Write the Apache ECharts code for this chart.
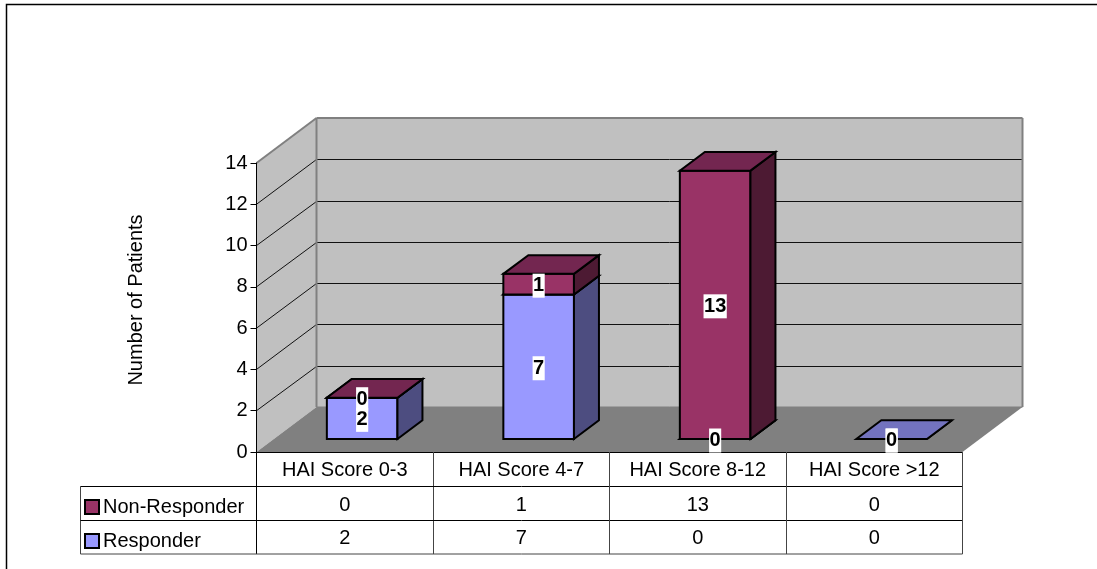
<!DOCTYPE html>
<html>
<head>
<meta charset="utf-8">
<style>html,body{margin:0;padding:0;background:#fff}#c{width:1097px;height:569px}</style>
<script src="https://cdn.jsdelivr.net/npm/echarts@6/dist/echarts.min.js"></script>
</head>
<body>
<div id="c"></div>
<script>
var categories = ['HAI Score 0-3', 'HAI Score 4-7', 'HAI Score 8-12', 'HAI Score >12'];
var responder = [2, 7, 0, 0];
var nonResponder = [0, 1, 13, 0];
var yTicks = [0, 2, 4, 6, 8, 10, 12, 14];

var FONT = '"Liberation Sans", Arial, sans-serif';
var WALL = [60, -45], BAR_SHIFT = [17.4, -13], BAR_DEPTH = [25, -18.7], BAR_RATIO = 0.4;
var ROWS = [34.5, 68.5, 102];
var TABLE_LEFT = 80.5;

function line(x1, y1, x2, y2, color, w) {
  return {type: 'line', silent: true, shape: {x1: x1, y1: y1, x2: x2, y2: y2}, style: {stroke: color, lineWidth: w, fill: null}};
}
function poly(points, fill, stroke, w) {
  return {type: 'polygon', silent: true, shape: {points: points}, style: {fill: fill, stroke: stroke || null, lineWidth: w || 0, lineJoin: 'miter'}};
}
function walls(params, api) {
  var p = api.coord([0, api.value(0)]);
  var v = api.value(0);
  var cs = params.coordSys;
  var L = cs.x, R = cs.x + cs.width, B = cs.y + cs.height, T = cs.y;
  var dx = WALL[0], dy = WALL[1], ch = [];
  if (params.dataIndex === 0) {
    ch.push(poly([[L + dx, T + dy], [R + dx, T + dy], [R + dx, B + dy], [L + dx, B + dy]], '#c0c0c0'));
    ch.push(poly([[L, T], [L + dx, T + dy], [L + dx, B + dy], [L, B]], '#c0c0c0'));
    ch.push(poly([[L, B], [L + dx, B + dy], [R + dx, B + dy], [R, B]], '#808080'));
  } else if (v < 14) {
    var y = Math.round(p[1] + dy) + 0.5;
    ch.push(line(L, p[1], L + dx, y, '#111', 1));
    ch.push(line(L + dx, y, R + dx, y, '#111', 1));
  } else {
    var t = T + dy;
    ch.push(line(L, T, L + dx, t, '#808080', 2));
    ch.push(line(L + dx, t, R + dx, t, '#808080', 2));
    ch.push(line(R + dx, t, R + dx, B + dy, '#808080', 2));
    ch.push(line(L + dx, t, L + dx, B + dy, '#808080', 2));
    ch.push(line(L + dx, B + dy, R + dx, B + dy, '#808080', 1));
  }
  return {type: 'group', children: ch};
}
function barRenderer(front, top, side, isUpper) {
  return function (params, api) {
    var i = api.value(0), val = api.value(1), base = api.value(2);
    if (isUpper && val === 0 && base === 0) { return {type: 'group', children: []}; }
    var a = api.coord([i, base]), b = api.coord([i, base + val]);
    var w = api.size([1, 0])[0] * BAR_RATIO;
    var x0 = a[0] - w / 2 + BAR_SHIFT[0], x1 = x0 + w;
    var yb = a[1] + BAR_SHIFT[1], yt = b[1] + BAR_SHIFT[1];
    var ddx = BAR_DEPTH[0], ddy = BAR_DEPTH[1];
    return {type: 'group', children: [
      poly([[x0, yb], [x1, yb], [x1, yt], [x0, yt]], front, '#000', 2),
      poly([[x1, yb], [x1 + ddx, yb + ddy], [x1 + ddx, yt + ddy], [x1, yt]], side, '#000', 2),
      poly([[x0, yt], [x1, yt], [x1 + ddx, yt + ddy], [x0 + ddx, yt + ddy]], top, '#000', 2)
    ]};
  };
}
function labels(params, api) {
  var i = api.value(0), val = api.value(1), base = api.value(2);
  var c = api.coord([i, base + val / 2]);
  return {type: 'text', silent: true, x: c[0] + BAR_SHIFT[0], y: c[1] + BAR_SHIFT[1] + 1.5,
    style: {text: String(val), font: 'bold 20px ' + FONT, fill: '#000', align: 'center', verticalAlign: 'middle',
      backgroundColor: '#fff', padding: [2, 0.5]}};
}
function tableCell(txt, x, y) {
  return {type: 'text', silent: true, x: x, y: y + 1.5,
    style: {text: String(txt), font: '20px ' + FONT, fill: '#000', align: 'center', verticalAlign: 'middle'}};
}
function table(params, api) {
  var i = api.value(0);
  var p = api.coord([i, 0]);
  var w = api.size([1, 0])[0];
  var cs = params.coordSys;
  var y0 = cs.y + cs.height;
  var right = Math.floor(p[0] + w / 2) + 0.5;
  var ch = [
    line(right, y0, right, y0 + ROWS[2], '#444', 1),
    tableCell(api.value(1), p[0], y0 + (ROWS[0] + ROWS[1]) / 2),
    tableCell(api.value(2), p[0], y0 + (ROWS[1] + ROWS[2]) / 2)
  ];
  if (i === 0) {
    var L = Math.floor(cs.x) + 0.5, R = cs.x + cs.width;
    ch.push(line(L, y0, L, y0 + ROWS[2], '#000', 1));
    ch.push(line(TABLE_LEFT, y0 + ROWS[0], TABLE_LEFT, y0 + ROWS[2], '#444', 1));
    ch.push(line(TABLE_LEFT, y0 + ROWS[0], R, y0 + ROWS[0], '#000', 1));
    ch.push(line(TABLE_LEFT, y0 + ROWS[1], R, y0 + ROWS[1], '#000', 1));
    ch.push(line(TABLE_LEFT, y0 + ROWS[2], R, y0 + ROWS[2], '#444', 1));
  }
  return {type: 'group', children: ch};
}

var responderData = categories.map(function (c, i) { return [i, responder[i], 0]; });
var nonResponderData = categories.map(function (c, i) { return [i, nonResponder[i], responder[i]]; });
var tableData = categories.map(function (c, i) { return [i, nonResponder[i], responder[i]]; });

var chart = echarts.init(document.getElementById('c'), null, {renderer: 'canvas'});
chart.setOption({
  animation: false,
  backgroundColor: '#fff',
  textStyle: {fontFamily: FONT},
  tooltip: {show: false},
  grid: {left: 256.5, top: 163, width: 706, height: 289, containLabel: false},
  legend: {
    show: true, orient: 'vertical', left: 84, top: 497, itemWidth: 14, itemHeight: 14, itemGap: 14, padding: 0,
    selectedMode: false, icon: 'rect',
    itemStyle: {borderColor: '#000', borderWidth: 2},
    textStyle: {fontSize: 20, color: '#000', fontFamily: FONT, padding: [0, 0, 0, -1]},
    data: ['Non-Responder', 'Responder']
  },
  xAxis: {
    type: 'category', data: categories, boundaryGap: true,
    axisLine: {show: true, lineStyle: {color: '#000', width: 1}},
    axisTick: {show: false},
    splitLine: {show: false},
    axisLabel: {fontSize: 20, color: '#000', fontFamily: FONT, margin: 8, interval: 0}
  },
  yAxis: {
    type: 'value', min: 0, max: 14, interval: 2,
    axisLine: {show: true, lineStyle: {color: '#000', width: 1}},
    axisTick: {show: true, length: 6, lineStyle: {color: '#000', width: 1}},
    splitLine: {show: false},
    axisLabel: {fontSize: 20, color: '#000', fontFamily: FONT, margin: 9, padding: [2, 0, 0, 0]}
  },
  graphic: [
    {type: 'polyline', silent: true, shape: {points: [[6.5, 569], [6.5, 4.5], [1097, 4.5]]},
      style: {stroke: '#000', lineWidth: 1.5, fill: null}},
    {type: 'text', silent: true, x: 136.5, y: 300, rotation: Math.PI / 2,
      style: {text: 'Number of Patients', font: '20px ' + FONT, fill: '#000', align: 'center', verticalAlign: 'middle'}}
  ],
  series: [
    {type: 'custom', name: 'walls', z: -1, silent: true, renderItem: walls, encode: {y: 0},
      data: yTicks.map(function (t) { return [t]; })},
    {type: 'custom', name: 'Responder', z: 3, silent: true, itemStyle: {color: '#9999ff'},
      renderItem: barRenderer('#9999ff', '#7373bf', '#4d4d80', false), encode: {x: 0, y: 1}, data: responderData},
    {type: 'custom', name: 'Non-Responder', z: 4, silent: true, itemStyle: {color: '#993366'},
      renderItem: barRenderer('#993366', '#732650', '#4d1a33', true), encode: {x: 0, y: 1}, data: nonResponderData},
    {type: 'custom', name: 'responder labels', z: 5, silent: true, renderItem: labels, encode: {x: 0, y: 1}, data: responderData},
    {type: 'custom', name: 'non-responder labels', z: 6, silent: true, renderItem: labels, encode: {x: 0, y: 1}, data: nonResponderData},
    {type: 'custom', name: 'table', z: 7, silent: true, renderItem: table, encode: {x: 0}, data: tableData}
  ]
});
</script>
</body>
</html>
